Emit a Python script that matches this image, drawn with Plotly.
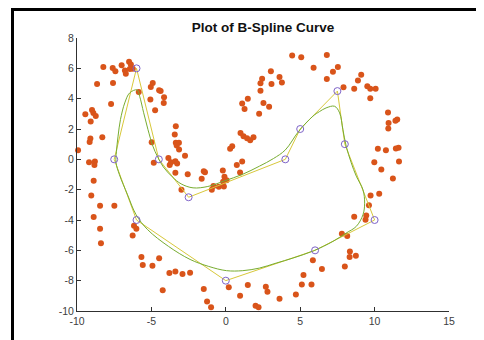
import plotly.graph_objects as go

# Scattered data points
dots_x = [-8.23, -7.6, -7.42, -7.0, -6.78, -6.72, -6.5, -6.38, -6.25, -6.45,
          -8.65, -7.58, -7.71, -9.44, -8.99, -8.9, -8.74, -9.08, -8.3, -9.1,
          -9.15, -9.93, -9.19, -8.8, -8.83, -8.88, -9.04, -8.45, -7.49, -8.88,
          -8.45, -8.39,
          -5.85, -5.04, -4.91, -4.48, -4.38, -4.15, -4.17, -5.07, -4.75, -4.98, -4.84,
          -3.36, -3.43, -3.36, -3.15, -3.3, -3.14, -2.74, -3.86, -3.68, -3.77,
          -3.39, -3.27, -3.39, -2.56, -2.98,
          -1.48, -1.4, -1.62, -0.94, -0.83, -0.47, -0.13, -0.2, -0.09, 0.05, -0.18,
          0.29, 0.43, 0.74, 1.1, 0.96, 0.99, 1.19, 1.43, 1.64, 1.86,
          1.1, 1.26, 1.48, 2.24, 2.53, 2.91, 2.33, 2.33, 2.44, 3.03, 3.07, 3.61, 3.77,
          4.46, 5.07, 5.9, 6.79, 7.53, 7.2, 6.79, 7.91,
          9.1, 8.88, 8.63, 9.51, 9.71, 10.07, 9.71, 10.9, 11.52, 11.4, 10.94, 10.92,
          10.22, 10.76, 11.61, 11.43, 9.98, 11.64, 10.45, 11.23, 10.31, 9.73, 9.62,
          8.63, 9.44, 9.39, 7.8, 8.16, 8.34, 8.32, 8.74, 8.0, 6.46, 5.85, 5.76,
          5.22, 5.11, 4.71, 3.61, 2.8, 2.69, 2.0, 2.2, 1.48, 0.96, 0.2, -0.49,
          -0.99, -1.26, -1.48,
          -6.17, -6.01, -6.26, -5.67, -5.58, -4.93, -4.48, -3.79, -3.39, -2.91,
          -2.4, -4.24]
dots_y = [6.09, 6.03, 5.8, 6.2, 5.85, 5.65, 6.44, 6.25, 5.97, 5.95,
          4.97, 5.04, 3.65, 2.97, 3.26, 3.05, 2.86, 2.49, 1.45, 1.37,
          1.15, 0.6, -0.19, -0.15, -0.38, -1.42, -2.38, -3.06, -3.06, -3.81,
          -4.58, -5.54,
          4.44, 4.77, 5.04, 4.55, 4.5, 4.09, 3.72, 3.94, 3.24, 1.13, -0.23,
          2.18, 1.63, 1.09, 1.09, 0.92, 0.65, 0.23, 0.08, -0.19, -0.38,
          -0.12, -0.27, -0.89, -0.98, -2.0,
          -0.78, -0.85, -1.28, -2.0, -1.75, -1.8, -1.79, -0.74, -1.15, -1.38, -1.48,
          0.69, 0.87, -0.38, -0.14, -0.87, 1.74, 1.53, 1.39, 1.26, 1.46,
          3.68, 3.32, 4.0, 3.0, 3.72, 3.46, 4.53, 5.01, 5.32, 5.8, 4.97, 5.43, 5.06,
          6.84, 6.73, 6.04, 6.88, 6.09, 5.78, 5.3, 4.75,
          5.57, 5.19, 4.66, 4.82, 4.66, 4.66, 4.03, 3.08, 2.62, 2.55, 2.4, 2.03,
          0.69, 0.6, 0.76, 0.71, -0.19, -0.14, -0.67, -1.26, -2.27, -2.38, -3.02,
          -3.79, -3.7, -3.98, -4.91, -5.06, -6.07, -6.44, -6.35, -7.06, -7.23, -6.66, -8.26,
          -7.63, -8.26, -8.92, -9.19, -8.73, -8.4, -9.65, -9.76, -8.29, -8.99, -8.44, -10.02,
          -9.76, -9.38, -8.55,
          -4.38, -4.58, -5.02, -6.44, -6.97, -7.01, -6.53, -7.5, -7.39, -7.56,
          -7.47, -8.64]

# Control points of the closed control polygon
ctrl_x = [-6, -4.5, -2.5, 4, 5, 7.5, 8, 10, 6, 0, -6, -7.5, -6]
ctrl_y = [6, 0, -2.5, 0, 2, 4.5, 1, -4, -6, -8, -4, 0, 6]

# B-spline curve
curve_x = [-5.96, -5.79, -5.52, -5.23, -4.9, -4.6, -4.2, -3.6, -3.0, -2.2,
           -1.21, -0.09, 1.1, 2.26, 3.2, 4.0, 4.9, 5.85, 6.3, 6.74, 7.31,
           7.65, 7.87, 8.09, 8.43, 8.77, 9.22, 9.33, 9.22, 8.77, 8.09, 7.2,
           5.9, 4.51, 3.39, 2.26, 1.14, 0.05, -1.15, -2.4, -3.85, -5.25,
           -6.03, -6.6, -7.15, -7.38, -7.35, -7.24, -7.08, -6.79, -6.46, -5.96]
curve_y = [4.58, 4.16, 3.07, 1.96, 0.87, 0.2, -0.5, -1.15, -1.62, -1.88,
           -1.79, -1.42, -1.0, -0.45, 0.05, 0.62, 1.85, 2.84, 3.15, 3.39, 3.5,
           3.06, 1.96, 0.87, -0.23, -1.11, -2.01, -2.89, -3.65, -4.42, -4.86, -5.41,
           -6.03, -6.51, -6.84, -7.17, -7.34, -7.34, -7.06, -6.6, -5.74, -4.64,
           -3.65, -2.34, -1.01, -0.2, 0.5, 1.53, 2.62, 3.72, 4.38, 4.58]

x_ticks = [-10, -5, 0, 5, 10, 15]
y_ticks = [-10, -8, -6, -4, -2, 0, 2, 4, 6, 8]

fig = go.Figure()
fig.add_trace(go.Scatter(x=dots_x, y=dots_y, mode="markers", cliponaxis=False,
                         marker=dict(size=6, color="#D9541A", line=dict(width=0)),
                         showlegend=False))
fig.add_trace(go.Scatter(x=ctrl_x, y=ctrl_y, mode="lines",
                         line=dict(color="#D8C83A", width=1), showlegend=False))
fig.add_trace(go.Scatter(x=curve_x, y=curve_y, mode="lines", line_shape="spline",
                         line=dict(color="#77AC30", width=1), showlegend=False))
fig.add_trace(go.Scatter(x=ctrl_x[:-1], y=ctrl_y[:-1], mode="markers", cliponaxis=False,
                         marker=dict(size=7, symbol="circle-open", color="#7E63C8",
                                     line=dict(width=1)),
                         showlegend=False))

axis_common = dict(showgrid=False, zeroline=False, showline=True, linecolor="#303030",
                   linewidth=1, ticks="inside", ticklen=4, tickcolor="#303030",
                   tickfont=dict(family="Liberation Sans, Arial", size=10.5, color="#404040"),
                   mirror=False)
fig.update_xaxes(range=[-10, 15], tickvals=x_ticks, ticktext=[str(v) for v in x_ticks],
                 **axis_common)
fig.update_yaxes(range=[-10, 8], tickvals=y_ticks, ticktext=[str(v) for v in y_ticks],
                 **axis_common)

# black frame around the figure (positions in paper coords)
L, R, T, B = 69, 43, 30, 37
pw, ph = 484 - L - R, 340 - T - B
def px2paper_x(p):
    return (p - L) / pw
def px2paper_y(q):
    return (340 - B - q) / ph

fig.add_shape(type="rect", xref="paper", yref="paper",
              x0=px2paper_x(4.5), x1=px2paper_x(481.5),
              y0=px2paper_y(350), y1=px2paper_y(1.5),
              line=dict(color="black", width=3), layer="above")

fig.update_layout(
    width=484, height=340,
    margin=dict(l=L, r=R, t=T, b=B),
    paper_bgcolor="white", plot_bgcolor="white",
    title=dict(text="<b>Plot of B-Spline Curve</b>", x=0.5, xref="paper",
               y=1 - 19 / 340, yref="container", yanchor="middle",
               font=dict(family="Liberation Sans, Arial", size=13.5, color="#111111")),
)

fig.write_html("out.html")
